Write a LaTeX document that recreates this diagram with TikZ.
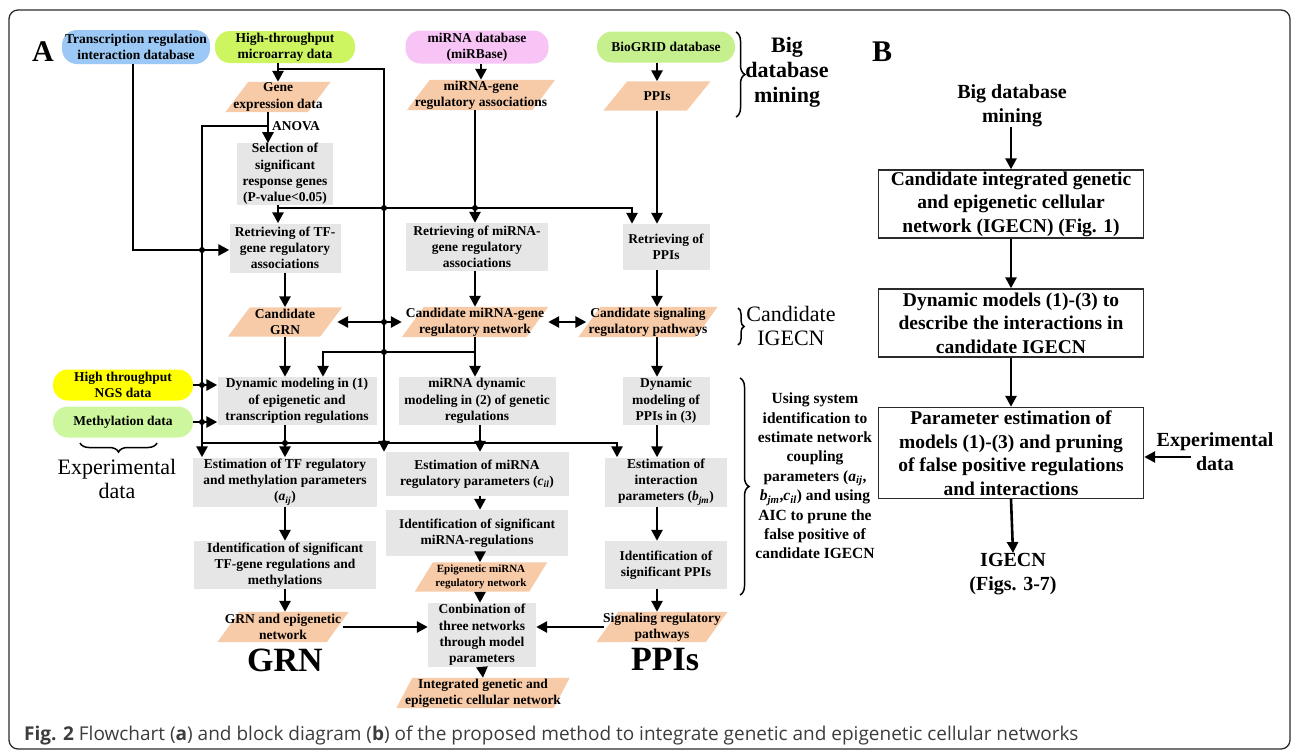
\documentclass[tikz,border=0pt]{standalone}
\usepackage{fontspec}
\setmainfont{Liberation Serif}
\newfontfamily\capfont{Open Sans}
\usetikzlibrary{arrows.meta,decorations.pathreplacing,backgrounds,calc}

\definecolor{dbblue}{HTML}{9BC8F4}
\definecolor{dblime}{HTML}{CCF560}
\definecolor{dbpink}{HTML}{F7C4F5}
\definecolor{dbgreen}{HTML}{C6F08E}
\definecolor{ngsyellow}{HTML}{FFFF00}
\definecolor{methgreen}{HTML}{CCF79E}
\definecolor{paraorange}{HTML}{F8CBA8}
\definecolor{boxgray}{HTML}{E6E6E6}
\definecolor{capgray}{HTML}{3C3C3C}
\definecolor{framegray}{HTML}{2B2B2B}

\newcommand\fsz[2]{\fontsize{#1}{#2}\selectfont}
\newcommand\sub[2]{\textit{#1}\textsubscript{\textit{#2}}}

\begin{document}
\begin{tikzpicture}[x=1pt,y=-1pt,
  every node/.style={font=\bfseries\fsz{13.5}{16.3}, align=center, inner sep=0pt},
  gbox/.style={fill=boxgray},
  db/.style={rounded corners=15pt},
  paratext/.style={},
  arr/.style={line width=2.6pt, -{Triangle[length=11pt,width=11pt]}},
  darr/.style={line width=2.6pt, {Triangle[length=11pt,width=11pt]}-{Triangle[length=11pt,width=11pt]}},
  jdot/.style={circle, fill=black, minimum size=6pt},
  bracestyle/.style={line width=1.5pt, decorate},
  bbox/.style={draw=framegray, line width=1.4pt, font=\bfseries\fsz{19.5}{23.5}},
  bigbold/.style={font=\bfseries\fsz{22}{25}},
  bigreg/.style={font=\fsz{22}{24.5}},
  huge/.style={font=\bfseries\fsz{34}{36}},
  panel/.style={font=\bfseries\fsz{30}{32}}
]
\useasboundingbox (0,0) rectangle (1292,750);

% outer frame
\draw[framegray, line width=1.3pt, rounded corners=9pt] (9,10) rectangle (1290,749);

% ---------- panel A ----------
\node[panel] (labA) at (43,52) {A};

% data sources
\node[db, fill=dbblue, minimum width=148, minimum height=34] (TR) at (136,47) {Transcription regulation\\interaction database};
\node[db, fill=dblime, minimum width=140, minimum height=32] (HT) at (285,47) {High-throughput\\microarray data};
\node[db, fill=dbpink, minimum width=143, minimum height=33] (MI) at (477,47) {miRNA database\\(miRBase)};
\node[db, fill=dbgreen, minimum width=138, minimum height=31] (BIO) at (666,47) {BioGRID database};
\node[db, fill=ngsyellow, minimum width=140, minimum height=31] (NGS) at (123,385) {High throughput\\NGS data};
\node[db, fill=methgreen, minimum width=140, minimum height=31] (METH) at (123,422) {Methylation data};

% data sets (parallelograms, filled on the background layer)
\node[paratext, minimum width=105, minimum height=30] (GE) at (278,97) {Gene\\expression data};
\node[paratext, minimum width=148, minimum height=30] (MG) at (481,95) {miRNA-gene\\regulatory associations};
\node[paratext, minimum width=107, minimum height=29] (PP) at (657,96) {PPIs};
\node[paratext, minimum width=114, minimum height=29] (CGRN) at (285,322) {Candidate\\GRN};
\node[paratext, minimum width=146, minimum height=30] (CMI) at (475,322) {Candidate miRNA-gene\\regulatory network};
\node[paratext, minimum width=139, minimum height=30] (CSIG) at (648,322) {Candidate signaling\\regulatory pathways};
\node[paratext, minimum width=132, minimum height=29, font=\bfseries\fsz{11}{14}] (EPI) at (481,577) {Epigenetic miRNA\\regulatory network};
\node[paratext, minimum width=131, minimum height=30] (GRNE) at (283,627) {GRN and epigenetic\\network};
\node[paratext, minimum width=131, minimum height=30] (SIG) at (662,627) {Signaling regulatory\\pathways};
\node[paratext, minimum width=173, minimum height=30] (INT) at (483,693) {Integrated genetic and\\epigenetic cellular network};

% processing steps
\node[gbox, minimum width=96, minimum height=61] (SEL) at (285,174) {Selection of\\significant\\response genes\\(P-value<0.05)};
\node[gbox, minimum width=111, minimum height=49] (RTF) at (285,248) {Retrieving of TF-\\gene regulatory\\associations};
\node[gbox, minimum width=142, minimum height=48] (RMI) at (477,247) {Retrieving of miRNA-\\gene regulatory\\associations};
\node[gbox, minimum width=87, minimum height=46] (RPP) at (666,247) {Retrieving of\\PPIs};
\node[gbox, minimum width=159, minimum height=48] (DYN1) at (297,401) {Dynamic modeling in (1)\\of epigenetic and\\transcription regulations};
\node[gbox, minimum width=157, minimum height=48] (DYN2) at (477,401) {miRNA dynamic\\modeling in (2) of genetic\\regulations};
\node[gbox, minimum width=87, minimum height=48] (DYN3) at (666,401) {Dynamic\\modeling of\\PPIs in (3)};
\node[gbox, minimum width=184, minimum height=49] (EST1) at (285,482) {Estimation of TF regulatory\\and methylation parameters\\(\sub{a}{ij})};
\node[gbox, minimum width=183, minimum height=44] (EST2) at (477,474) {Estimation of miRNA\\regulatory parameters (\sub{c}{il})};
\node[gbox, minimum width=122, minimum height=49] (EST3) at (666,482) {Estimation of\\interaction\\parameters (\sub{b}{jm})};
\node[gbox, minimum width=182, minimum height=48] (ID1) at (285,565) {Identification of significant\\TF-gene regulations and\\methylations};
\node[gbox, minimum width=182, minimum height=46] (ID2) at (477,533) {Identification of significant\\miRNA-regulations};
\node[gbox, minimum width=122, minimum height=48] (ID3) at (666,565) {Identification of\\significant PPIs};
\node[gbox, minimum width=108, minimum height=64] (COMB) at (482,635) {Conbination of\\three networks\\through model\\parameters};

% parallelogram bodies
\begin{scope}[on background layer]
  \foreach \n/\s in {GE/23,MG/23,PP/24,CGRN/22,CMI/22,CSIG/22,EPI/18,GRNE/22,SIG/22,INT/16}
    \fill[paraorange] (\n.south west) -- ([xshift=-\s pt]\n.south east) -- (\n.north east) -- ([xshift=\s pt]\n.north west) -- cycle;
\end{scope}

% column and row positions of the connector runs
\coordinate (tdx) at (133,0);
\coordinate (busL) at (202,0);
\coordinate (anx) at (268,0);
\coordinate (mx) at (278,0);
\coordinate (colA) at (285,0);
\coordinate (dx) at (323,0);
\coordinate (busM) at (384,0);
\coordinate (mgx) at (475,0);
\coordinate (e2x) at (480,0);
\coordinate (mdx) at (481,0);
\coordinate (e3x) at (617,0);
\coordinate (rpx) at (632,0);
\coordinate (ppx) at (657,0);
\coordinate (yMA) at (0,69);
\coordinate (yAN) at (0,126);
\coordinate (ySel) at (0,208);
\coordinate (yTR) at (0,250);
\coordinate (yC) at (0,352);
\coordinate (yE) at (0,443);

% connectors
\draw[arr] (HT.south -| mx) -- (GE.north -| mx);
\draw[arr] (yMA -| mx) -- (yMA -| busM) -- (EST2.north -| busM);
\draw[arr] (GE.south -| anx) -- (SEL.north -| anx);
\node[anchor=west] (anova) at (272,126) {ANOVA};
\draw[arr] (yAN -| anx) -- (yAN -| busL) -- (EST1.north -| busL);
\draw[arr] (MI.south -| mdx) -- (MG.north -| mdx);
\draw[arr] (BIO.south -| ppx) -- (PP.north -| ppx);
\draw[arr] (SEL.south -| mx) -- (RTF.north -| mx);
\draw[arr] (ySel -| mx) -- (ySel -| rpx) -- (RPP.north -| rpx);
\draw[arr] (MG.south -| mgx) -- (RMI.north -| mgx);
\draw[arr] (PP.south -| ppx) -- (RPP.north -| ppx);
\draw[arr] (TR.south -| tdx) -- (yTR -| tdx) -- (RTF.west |- yTR);
\draw[arr] (RTF.south -| colA) -- (CGRN.north -| colA);
\draw[arr] (RMI.south -| mgx) -- (CMI.north -| mgx);
\draw[arr] (RPP.south -| ppx) -- (CSIG.north -| ppx);
\draw[darr] ([xshift=-5pt]CGRN.east) -- (CMI.west);
\draw[darr] (CMI.east) -- ([xshift=8pt]CSIG.west);
\draw[arr] (CMI.south -| mgx) -- (DYN2.north -| mgx);
\draw[arr] (yC -| mgx) -- (yC -| dx) -- (DYN1.north -| dx);
\draw[arr] (CGRN.south -| colA) -- (DYN1.north -| colA);
\draw[arr] (CSIG.south -| ppx) -- (DYN3.north -| ppx);
\draw[arr] (NGS.east) -- (DYN1.west |- NGS.east);
\draw[arr] (METH.east) -- (DYN1.west |- METH.east);
\draw[arr] (DYN1.south -| colA) -- (EST1.north -| colA);
\draw[arr] (DYN2.south -| e2x) -- (EST2.north -| e2x);
\draw[arr] (DYN3.south -| ppx) -- (EST3.north -| ppx);
\draw[arr] (yE -| busL) -- (yE -| e3x) -- (EST3.north -| e3x);
\draw[arr] (EST1.south -| colA) -- (ID1.north -| colA);
\draw[arr] (EST2.south -| e2x) -- (ID2.north -| e2x);
\draw[arr] (EST3.south -| ppx) -- (ID3.north -| ppx);
\draw[arr] (ID1.south -| colA) -- (GRNE.north -| colA);
\draw[arr] (ID2.south -| e2x) -- (EPI.north -| e2x);
\draw[arr] (ID3.south -| ppx) -- (SIG.north -| ppx);
\draw[arr] (EPI.south -| e2x) -- (COMB.north -| e2x);
\draw[arr] (COMB.south) -- (INT.north);
\draw[arr] ([xshift=-6pt]GRNE.east) -- (COMB.west |- GRNE.east);
\draw[arr] ([xshift=8pt]SIG.west) -- (COMB.east |- SIG.west);

% junction marks where runs cross
\foreach \p in {yTR -| busL, ySel -| busM, ySel -| mgx, CGRN.east -| busM, yC -| busM,
                yE -| colA, yE -| busM, yE -| e2x, NGS.east -| busL, METH.east -| busL}
  \node[jdot] at (\p) {};

% side annotations
\node[bigbold] (bigdb) at (787,72) {Big\\database\\mining};
\draw[bracestyle, decoration={brace, amplitude=9pt}] (736,32) -- (736,117);
\node[bigreg] (candlbl) at (791,326) {Candidate\\IGECN};
\draw[bracestyle, decoration={brace, amplitude=6pt}] (738,308) -- (738,345);
\node[font=\bfseries\fsz{15.5}{19.4}] (sysid) at (815,476) {Using system\\identification to\\estimate network\\coupling\\parameters (\sub{a}{ij},\\\sub{b}{jm},\sub{c}{il}) and using\\AIC to prune the\\false positive of\\candidate IGECN};
\draw[bracestyle, decoration={brace, amplitude=9pt}] (740,378) -- (740,595);
\draw[bracestyle, decoration={brace, amplitude=9pt}] (157,443) -- (80,443);
\node[bigreg] (expA) at (117,479) {Experimental\\data};
\node[huge] (grnlbl) at (285,660) {GRN};
\node[huge] (ppilbl) at (665,660) {PPIs};

% ---------- panel B ----------
\node[panel] (labB) at (882,52) {B};
\node[font=\bfseries\fsz{20}{23.5}] (bdm) at (1012,106) {Big database\\mining};
\node[bbox, minimum width=265, minimum height=68] (B1) at (1011,204) {Candidate integrated genetic\\and epigenetic cellular\\network (IGECN) (Fig. 1)};
\node[bbox, minimum width=265, minimum height=68] (B2) at (1011,323) {Dynamic models (1)-(3) to\\describe the interactions in\\candidate IGECN};
\node[bbox, minimum width=265, minimum height=91] (B3) at (1011,453) {Parameter estimation of\\models (1)-(3) and pruning\\of false positive regulations\\and interactions};
\node[font=\bfseries\fsz{20}{24}] (IG) at (1013,574) {IGECN\\(Figs. 3-7)};
\node[font=\bfseries\fsz{20}{24}] (expB) at (1215,452) {Experimental\\data};
\coordinate (expin) at (1191,457);
\draw[arr] (bdm.south -| B1.north) -- (B1.north);
\draw[arr] (B1.south) -- (B2.north);
\draw[arr] (B2.south) -- (B3.north);
\draw[arr] (B3.south) -- (IG.north);
\draw[arr] (expin) -- (B3.east |- expin);

% caption
\node[anchor=base west, font=\capfont\fontsize{19}{21}\selectfont, text=capgray] (cap) at (24,740)
  {\textbf{Fig. 2} Flowchart (\textbf{a}) and block diagram (\textbf{b}) of the proposed method to integrate genetic and epigenetic cellular networks};
\end{tikzpicture}
\end{document}
